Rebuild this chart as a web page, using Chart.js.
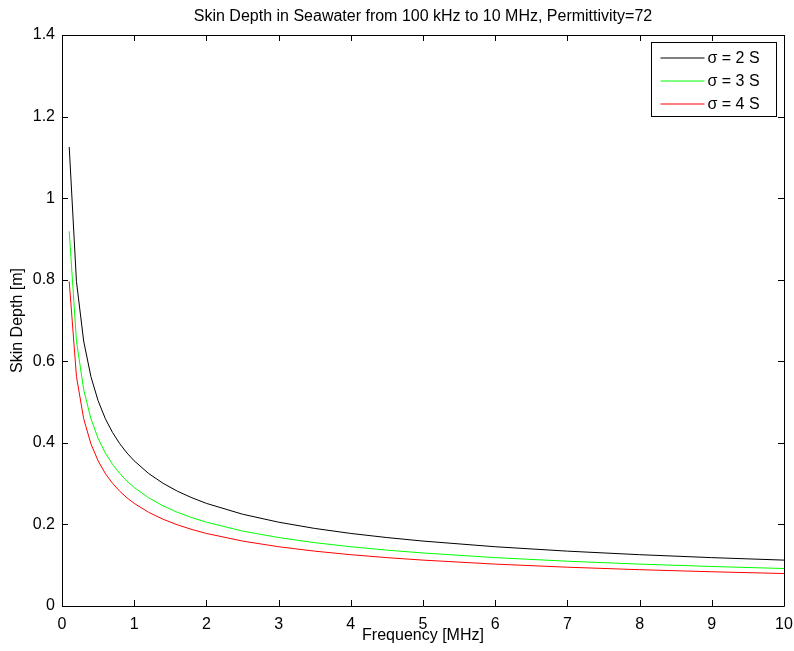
<!DOCTYPE html>
<html>
<head>
<meta charset="utf-8">
<script src="https://cdn.jsdelivr.net/npm/chart.js@4/dist/chart.umd.min.js"></script>
<style>
  html, body { margin: 0; padding: 0; background: #fff; }
  #wrap { width: 794px; height: 651px; }
</style>
</head>
<body>
<div id="wrap"><canvas id="c" width="794" height="651"></canvas></div>
<script>
// Frequency samples [MHz]
const freqMHz = [0.1, 0.2, 0.3, 0.4, 0.5, 0.6, 0.7, 0.8, 0.9, 1.0, 1.2, 1.4, 1.6, 1.8, 2.0, 2.5, 3, 3.5, 4, 4.5, 5, 6, 7, 8, 9, 10];
// Skin depth [m]
const depthSigma2 = [1.1254, 0.7958, 0.6497, 0.5627, 0.5033, 0.4594, 0.4254, 0.3979, 0.3751, 0.3559, 0.3249, 0.3008, 0.2813, 0.2653, 0.2516, 0.2251, 0.2055, 0.1902, 0.1779, 0.1678, 0.1592, 0.1453, 0.1345, 0.1258, 0.1186, 0.1125];
const depthSigma3 = [0.9189, 0.6498, 0.5305, 0.4595, 0.4109, 0.3751, 0.3473, 0.3249, 0.3063, 0.2906, 0.2653, 0.2456, 0.2297, 0.2166, 0.2055, 0.1838, 0.1678, 0.1553, 0.1453, 0.1370, 0.1300, 0.1186, 0.1098, 0.1027, 0.0969, 0.0919];
const depthSigma4 = [0.7958, 0.5627, 0.4594, 0.3979, 0.3559, 0.3249, 0.3008, 0.2813, 0.2653, 0.2516, 0.2297, 0.2127, 0.1989, 0.1876, 0.1779, 0.1592, 0.1453, 0.1345, 0.1258, 0.1186, 0.1125, 0.1027, 0.0951, 0.0890, 0.0839, 0.0796];
const seriesLabels = ['σ = 2 S', 'σ = 3 S', 'σ = 4 S'];
const seriesColors = ['#000000', '#00ff00', '#ff0000'];
const xTicks = [0, 1, 2, 3, 4, 5, 6, 7, 8, 9, 10];
const yTicks = [0, 0.2, 0.4, 0.6, 0.8, 1, 1.2, 1.4];

const FONT = '"Liberation Sans", Arial, Helvetica, sans-serif';
const FS = 16;

function pts(ys) { return freqMHz.map((f, i) => ({ x: f, y: ys[i] })); }

const frameTicks = {
  id: 'frameTicks',
  afterDatasetsDraw(chart) {
    const { ctx, chartArea: a, scales: { x, y } } = chart;
    const L = 6;
    ctx.save();
    ctx.strokeStyle = '#000';
    ctx.lineWidth = 1;
    ctx.beginPath();
    ctx.rect(Math.round(a.left) + 0.5, Math.round(a.top) + 0.5, Math.round(a.right - a.left), Math.round(a.bottom - a.top));
    ctx.stroke();
    ctx.beginPath();
    xTicks.forEach(v => {
      const px = Math.round(x.getPixelForValue(v)) + 0.5;
      ctx.moveTo(px, a.bottom); ctx.lineTo(px, a.bottom - L);
      ctx.moveTo(px, a.top); ctx.lineTo(px, a.top + L);
    });
    yTicks.forEach(v => {
      const py = Math.round(y.getPixelForValue(v)) + 0.5;
      ctx.moveTo(a.left, py); ctx.lineTo(a.left + L, py);
      ctx.moveTo(a.right, py); ctx.lineTo(a.right - L, py);
    });
    ctx.stroke();
    ctx.restore();
  },
  afterDraw(chart) {
    const { ctx, chartArea: a } = chart;
    const w = 125, h = 74;
    const bx = Math.round(a.right - 8 - w) + 0.5;
    const by = Math.round(a.top + 7) + 0.5;
    ctx.save();
    ctx.fillStyle = '#fff';
    ctx.fillRect(bx, by, w, h);
    ctx.strokeStyle = '#000';
    ctx.lineWidth = 1;
    ctx.strokeRect(bx, by, w, h);
    ctx.font = '16px ' + FONT;
    ctx.textBaseline = 'middle';
    ctx.textAlign = 'left';
    chart.data.datasets.forEach((ds, i) => {
      const cy = Math.round(by + 15 + i * 23);
      ctx.strokeStyle = ds.borderColor;
      ctx.beginPath();
      ctx.moveTo(bx + 9, cy);
      ctx.lineTo(bx + 53, cy);
      ctx.stroke();
      ctx.fillStyle = '#000';
      ctx.fillText(ds.label, bx + 56, cy + 1);
    });
    ctx.restore();
  }
};

new Chart(document.getElementById('c'), {
  type: 'line',
  data: {
    datasets: [
      { label: seriesLabels[0], data: pts(depthSigma2), borderColor: seriesColors[0], borderWidth: 1, pointRadius: 0, tension: 0, fill: false },
      { label: seriesLabels[1], data: pts(depthSigma3), borderColor: seriesColors[1], borderWidth: 1, pointRadius: 0, tension: 0, fill: false },
      { label: seriesLabels[2], data: pts(depthSigma4), borderColor: seriesColors[2], borderWidth: 1, pointRadius: 0, tension: 0, fill: false }
    ]
  },
  options: {
    responsive: false,
    animation: false,
    devicePixelRatio: 1,
    layout: { padding: { left: 0, right: 0, top: 0, bottom: 0 } },
    plugins: {
      legend: { display: false },
      tooltip: { enabled: false },
      title: {
        display: true,
        fullSize: false,
        text: 'Skin Depth in Seawater from 100 kHz to 10 MHz, Permittivity=72',
        color: '#000',
        font: { family: FONT, size: FS, weight: 'normal' },
        padding: { top: 6.9, bottom: 8.9 }
      }
    },
    scales: {
      x: {
        type: 'linear',
        min: 0, max: 10,
        afterBuildTicks: s => { s.ticks = xTicks.map(v => ({ value: v })); },
        ticks: { color: '#000', font: { family: FONT, size: FS }, padding: 9, maxRotation: 0, autoSkip: false },
        grid: { display: false, drawTicks: false },
        border: { display: false },
        title: { display: true, text: 'Frequency [MHz]', color: '#000', font: { family: FONT, size: FS }, padding: { top: 0, bottom: 5.4 } },
        afterFit: s => { s.height = 45; s.paddingRight = 10; s.paddingLeft = 0; }
      },
      y: {
        min: 0, max: 1.4,
        afterBuildTicks: s => { s.ticks = yTicks.map(v => ({ value: v })); },
        ticks: { color: '#000', font: { family: FONT, size: FS }, padding: 7, callback: v => String(Math.round(v * 10) / 10) },
        grid: { display: false, drawTicks: false },
        border: { display: false },
        title: { display: true, text: 'Skin Depth [m]', color: '#000', font: { family: FONT, size: FS }, padding: { top: 8, bottom: 0 } },
        afterFit: s => { s.width = 62; s.paddingTop = 0; s.paddingBottom = 0; }
      }
    }
  },
  plugins: [frameTicks]
});
</script>
</body>
</html>
